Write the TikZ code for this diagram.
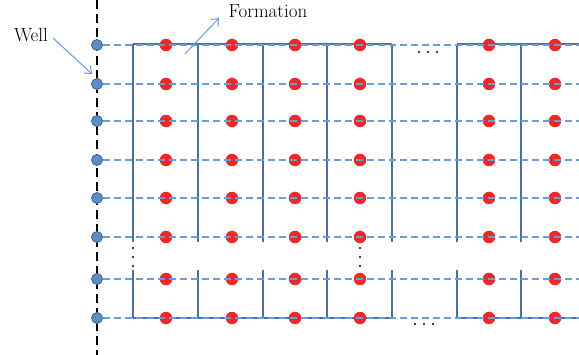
\documentclass[tikz,border=0pt]{standalone}
\usepackage{tikz}
\usepackage{xcolor}
\usetikzlibrary{arrows,arrows.meta,positioning}

\definecolor{gridblue}{RGB}{74,112,160}
\definecolor{dashblue}{RGB}{108,156,212}
\definecolor{wellfill}{RGB}{92,142,196}
\definecolor{welldraw}{RGB}{58,96,144}
\definecolor{dotred}{RGB}{236,40,40}

\begin{document}
\begin{tikzpicture}[
      x=1pt, y=-1pt,
      >={Straight Barb[length=6pt,width=10pt]},
      wellpt/.style={
        circle,
        draw=welldraw,
        fill=wellfill,
        line width=0.8pt,
        minimum size=11pt,
        inner sep=0pt
      },
      cell/.style={
        circle,
        fill=dotred,
        minimum size=12.5pt,
        inner sep=0pt
      },
      layer/.style={dashblue, line width=1.2pt, dash pattern=on 7pt off 4pt},
      wall/.style={gridblue, line width=1.4pt},
      gap/.style={circle, fill=black, inner sep=0pt, minimum size=2.2pt},
      label/.style={font=\fontsize{19}{22}\selectfont, inner sep=0pt}
    ]
      \path[use as bounding box] (0,0) rectangle (579,355);

      % Well axis
      \draw[black, line width=1.2pt, dash pattern=on 9pt off 5pt] (97,0) -- (97,355);

      % Block outlines
      \draw[wall] (133,44) -- (392,44) (457,44) -- (579,44);
      \draw[wall] (133,318) -- (392,318) (457,318) -- (579,318);
      \foreach \x in {133,198,263,327,392,457,521}
        \draw[wall] (\x,44) -- (\x,242) (\x,270) -- (\x,318);

      % Grid cells
      \foreach \y [count=\i] in {45,84,121,160,198,237,279,318}
        \foreach \x [count=\j] in {166,232,295,360,489,555}
          \node[cell] (c\i-\j) at (\x,\y) {};

      % Well points and layers
      \foreach \y [count=\i] in {45,84,121,160,198,237,279,318} {
        \coordinate (e\i) at (579,\y);
        \node[wellpt] (w\i) at (97,\y) {};
        \draw[layer] (w\i.east) -- (e\i);
      }

      % Omitted rows and columns
      \foreach \y in {248,257,266} {
        \node[gap] at (133,\y) {};
        \node[gap] at (360,\y) {};
      }
      \foreach \x in {419,428,437}
        \node[gap] at (\x,52) {};
      \foreach \x in {415,424,433}
        \node[gap] at (\x,324) {};

      % Labels
      \node[label] (well) at (31,35) {Well};
      \node[label] (form) at (268,11) {Formation};
      \coordinate (wellstart) at (53,38);
      \coordinate (wellend) at (92,74);
      \coordinate (formstart) at (185,54);
      \coordinate (formend) at (219,18);
      \draw[->, dashblue, line width=1pt] (wellstart) -- (wellend);
      \draw[->, dashblue, line width=1pt] (formstart) -- (formend);
    \end{tikzpicture}
\end{document}
